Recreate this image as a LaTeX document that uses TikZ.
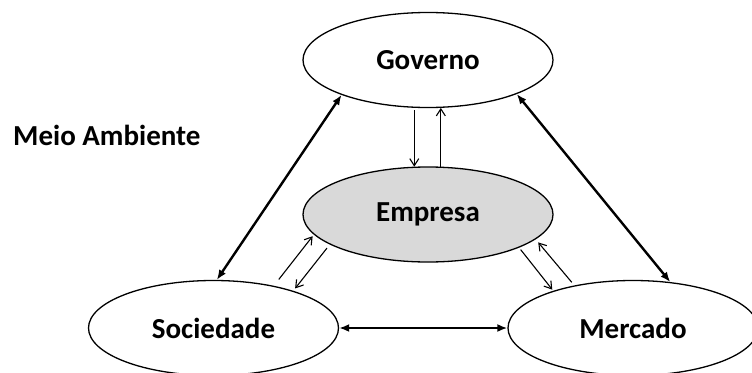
\documentclass[tikz,border=0pt]{standalone}
\usepackage{fontspec}
\setmainfont{Carlito}
\usetikzlibrary{arrows.meta,shapes.geometric}
\definecolor{empgray}{HTML}{D9D9D9}
\begin{document}
\begin{tikzpicture}[x=1pt,y=-1pt,
  oval/.style={ellipse, draw, line width=1.3pt, minimum width=250pt, minimum height=95pt, inner sep=0pt, font=\fontsize{29}{32}\selectfont\bfseries},
  thickarr/.style={line width=2.4pt, {Latex[length=10pt,width=8pt]}-{Latex[length=10pt,width=8pt]}},
  thinarr/.style={line width=1.1pt, -{Straight Barb[length=7pt,width=9pt]}},
  label/.style={anchor=west, inner sep=0pt, font=\fontsize{29}{32}\selectfont\bfseries}
]
\useasboundingbox (0,0) rectangle (752,372);
\node[oval] (gov) at (428,60) {Governo};
\node[oval, fill=empgray] (emp) at (428,214.5) {Empresa};
\node[oval] (soc) at (213.5,328) {Sociedade};
\node[oval] (mer) at (633,328) {Mercado};
\node[label] (meio) at (13,135) {Meio Ambiente};
% thick connectors
\draw[thickarr] (soc.86) -- (gov.202.8);
\draw[thickarr] (gov.-21.4) -- (mer.51.3);
\draw[thickarr] (soc) -- (mer);
% thin connectors
\draw[thinarr, shorten <=2.5pt] (gov.-106.5) -- (emp.106.5);
\draw[thinarr] (emp.75.8) -- (gov.-75.8);
\draw[thinarr, shorten <=8pt, shorten >=2pt] (soc.35.2) -- (emp.190.4);
\draw[thinarr, shorten <=4.5pt, shorten >=3pt] (emp.197.1) -- (soc.25.0);
\draw[thinarr, shorten <=2.5pt, shorten >=1.5pt] (emp.-20.8) -- (mer.155);
\draw[thinarr, shorten <=4pt, shorten >=4pt] (mer.144.3) -- (emp.-13);
\end{tikzpicture}
\end{document}
